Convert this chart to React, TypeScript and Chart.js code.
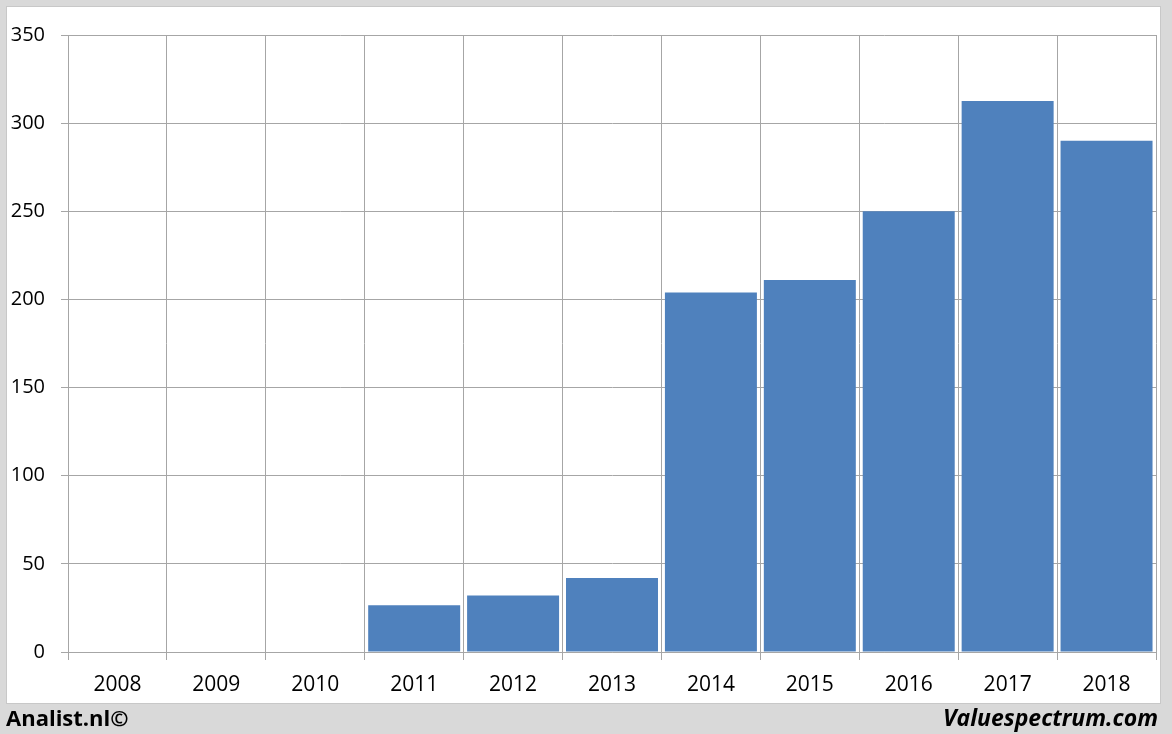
import React, { useEffect, useRef } from "react";
import { Chart, registerables } from "chart.js";

Chart.register(...registerables);

const years = ["2008", "2009", "2010", "2011", "2012", "2013", "2014", "2015", "2016", "2017", "2018"];
const values: (number | null)[] = [null, null, null, 26.5, 32, 42, 204, 211, 250, 312.5, 290];
const yMin = 0;
const yMax = 350;
const yStep = 50;

const FONT = "'Open Sans', 'Noto Sans', sans-serif";
const GRID = "#a6a6a6";

export default function App() {
  const ref = useRef<HTMLCanvasElement | null>(null);

  useEffect(() => {
    if (!ref.current) return;
    const chart = new Chart(ref.current, {
      type: "bar",
      data: {
        labels: years,
        datasets: [
          {
            data: values,
            backgroundColor: "#4F81BD",
            borderWidth: 0,
            barPercentage: 0.93,
            categoryPercentage: 1,
          },
        ],
      },
      options: {
        animation: false,
        responsive: true,
        maintainAspectRatio: false,
        layout: { padding: { top: 26, right: 4, left: 0, bottom: 0 } },
        plugins: { legend: { display: false }, tooltip: { enabled: false } },
        scales: {
          x: {
            offset: true,
            grid: { offset: true, color: GRID, tickLength: 8, drawTicks: true },
            border: { color: GRID },
            ticks: { color: "#000", font: { family: FONT, size: 21 }, padding: 12 },
            afterFit: (s: any) => {
              s.height = 51;
            },
          },
          y: {
            min: yMin,
            max: yMax,
            grid: { color: GRID, tickLength: 7 },
            border: { color: GRID },
            ticks: { stepSize: yStep, color: "#000", font: { family: FONT, size: 20 }, padding: 16 },
            afterFit: (s: any) => {
              s.width = 61;
            },
          },
        },
      },
    });
    return () => chart.destroy();
  }, []);

  return (
    <div
      style={{
        position: "fixed",
        left: 0,
        top: 0,
        width: 1172,
        height: 734,
        background: "#d9d9d9",
        overflow: "hidden",
      }}
    >
      <div
        style={{
          position: "absolute",
          left: 7,
          top: 7,
          width: 1153,
          height: 696,
          background: "#fff",
          boxShadow: "0 0 0 1px #c8c8c8",
        }}
      >
        <canvas ref={ref} />
      </div>
      <div
        style={{
          position: "absolute",
          left: 6,
          top: 702,
          fontFamily: FONT,
          fontWeight: 700,
          fontSize: 22,
          lineHeight: "30px",
          color: "#000",
        }}
      >
        Analist.nl©
      </div>
      <div
        style={{
          position: "absolute",
          right: 14,
          top: 702,
          fontFamily: FONT,
          fontWeight: 700,
          fontStyle: "italic",
          fontSize: 23,
          lineHeight: "30px",
          color: "#000",
        }}
      >
        Valuespectrum.com
      </div>
    </div>
  );
}
